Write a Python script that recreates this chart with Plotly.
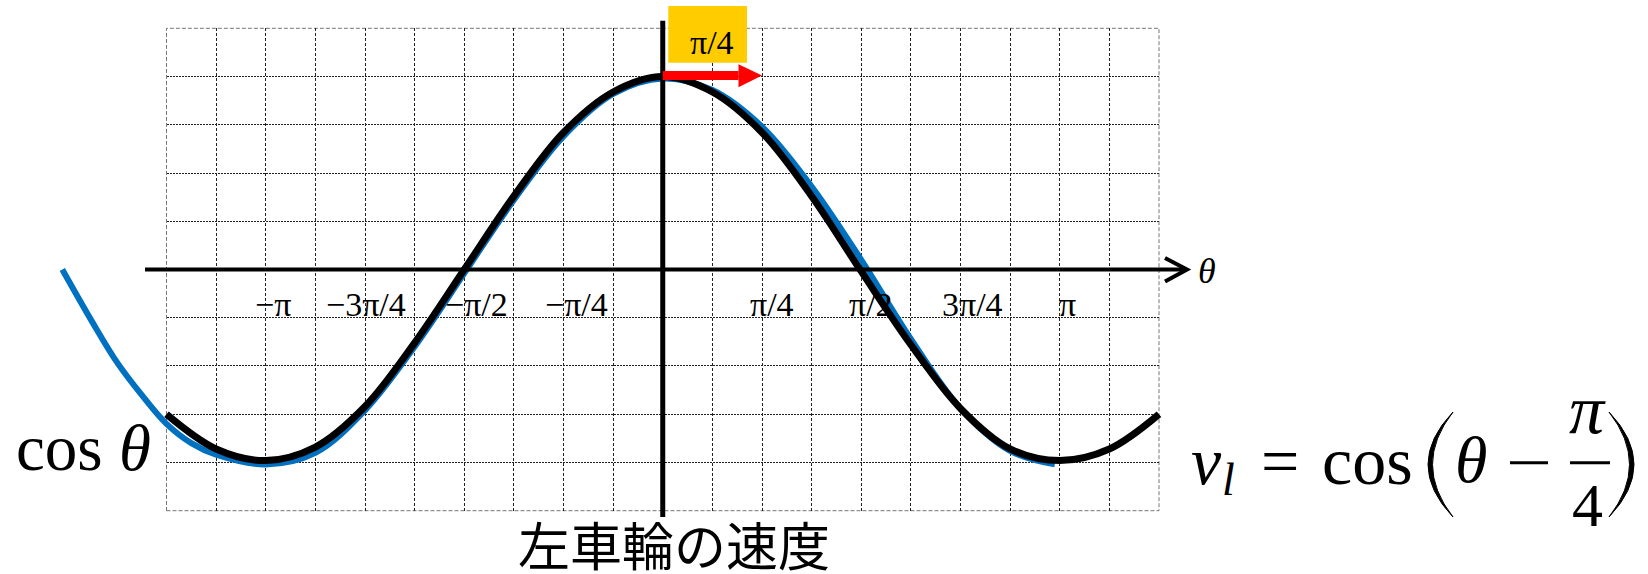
import math
import plotly.graph_objects as go

# curve samples, x in units of pi/8 (one grid column)
black_cols = [-10, -9, -8, -7, -6, -5, -4, -3, -2, -1, 0, 1, 2, 3, 4, 5, 6, 7, 8, 9, 10]
black_vals = [-0.75, -0.93, -0.99, -0.92, -0.71, -0.38, 0.00, 0.38, 0.71, 0.92, 1.00,
              0.92, 0.71, 0.38, -0.01, -0.39, -0.72, -0.93, -0.99, -0.93, -0.75]

blue_cols = [-12.1, -11.5, -11, -10.5, -10, -9.5, -9, -8, -7, -6, -5, -4, -3, -2, -1,
             0, 1, 2, 3, 4, 5, 6, 7, 7.9]
blue_vals = [0.00, -0.27, -0.48, -0.65, -0.80, -0.90, -0.96, -1.01, -0.95, -0.73, -0.40,
             -0.02, 0.36, 0.69, 0.91, 0.99, 0.93, 0.74, 0.43, 0.05, -0.36, -0.72, -0.94, -1.01]

tick_cols = [-8, -6, -4, -2, 2, 4, 6, 8]
tick_text = ["−π", "−3π/4", "−π/2", "−π/4", "π/4", "π/2", "3π/4", "π"]
tick_shift = [7, 1, 12, 13, 10, 10, 12, 8]

shift_cols = [0, 2]   # the pi/4 arrow, from 0 to pi/4

# page geometry (pixels)
W, H = 1648, 574
GX0, GX1 = 166.5, 1159.0
GY0, GY1 = 28.3, 510.7
XH, YH = 1.25 * math.pi, 1.25
kx = (GX1 - GX0) / (2 * XH)
ky = (GY1 - GY0) / (2 * YH)
cx = (GX0 + GX1) / 2
cy = (GY0 + GY1) / 2
COL = math.pi / 8

SERIF = "Liberation Serif"


def dx(px):
    return (px - cx) / kx


def dy(py):
    return (cy - py) / ky


def px_(px):
    return px / W


def py_(py):
    return 1 - py / H


fig = go.Figure()

# empty trace so the grid axes get drawn
fig.add_trace(go.Scatter(x=[0], y=[0], mode="markers", marker=dict(opacity=0),
                         xaxis="x", yaxis="y", hoverinfo="skip"))

fig.add_trace(go.Scatter(
    x=[c * COL for c in blue_cols], y=blue_vals, mode="lines",
    line=dict(color="#0070C0", width=6, shape="spline", smoothing=1.0),
    xaxis="x2", yaxis="y2"))
fig.add_trace(go.Scatter(
    x=[c * COL for c in black_cols], y=black_vals, mode="lines",
    line=dict(color="black", width=7, shape="spline", smoothing=1.0),
    xaxis="x2", yaxis="y2"))

shapes = []
# dashed outer border of the grid
shapes.append(dict(type="rect", xref="paper", yref="paper",
                   x0=px_(GX0), x1=px_(GX1), y0=py_(GY1), y1=py_(GY0),
                   line=dict(color="#777", width=1, dash="4px,2px"), layer="below"))
# theta axis with open arrow head
shapes.append(dict(type="line", xref="x2", yref="y2", x0=dx(145), x1=dx(1184), y0=0, y1=0,
                   line=dict(color="black", width=4)))
shapes.append(dict(type="path", xref="x2", yref="y2",
                   path=f"M {dx(1165)},{dy(258)} L {dx(1187)},0 L {dx(1165)},{dy(281.5)}",
                   line=dict(color="black", width=4)))
# vertical axis
shapes.append(dict(type="line", xref="x2", yref="y2", x0=0, x1=0, y0=dy(517), y1=dy(20.7),
                   line=dict(color="black", width=5)))
# red shift arrow
x_a, x_b = shift_cols[0] * COL, shift_cols[1] * COL
ya = dy(75.5)
head = 23.5 / kx
shapes.append(dict(type="line", xref="x2", yref="y2", x0=x_a, x1=x_b - head, y0=ya, y1=ya,
                   line=dict(color="#FF0000", width=9)))
shapes.append(dict(type="path", xref="x2", yref="y2",
                   path=f"M {x_b - head},{dy(64.3)} L {x_b},{ya} L {x_b - head},{dy(87.3)} Z",
                   fillcolor="#FF0000", line=dict(width=0)))
# yellow label box
shapes.append(dict(type="rect", xref="paper", yref="paper",
                   x0=px_(668.3), x1=px_(747), y0=py_(62.7), y1=py_(6),
                   fillcolor="#FFCC00", line=dict(width=0)))
# minus sign and fraction bar of the formula
shapes.append(dict(type="line", xref="paper", yref="paper",
                   x0=px_(1510), x1=px_(1548), y0=py_(462.7), y1=py_(462.7),
                   line=dict(color="black", width=3)))
shapes.append(dict(type="line", xref="paper", yref="paper",
                   x0=px_(1570), x1=px_(1610), y0=py_(462.7), y1=py_(462.7),
                   line=dict(color="black", width=3)))


def paren(tip_x, mid_out, mid_in, top=412, bot=517):
    # thin crescent shaped bracket, drawn in paper coordinates
    c_out = 2 * mid_out - tip_x
    c_in = 2 * mid_in - tip_x
    mid = (top + bot) / 2
    return dict(type="path", xref="paper", yref="paper",
                path=(f"M {px_(tip_x)},{py_(top)} Q {px_(c_out)},{py_(mid)} {px_(tip_x)},{py_(bot)} "
                      f"Q {px_(c_in)},{py_(mid)} {px_(tip_x)},{py_(top)} Z"),
                fillcolor="black", line=dict(color="black", width=1))


shapes.append(paren(1453, 1428, 1432.5))
shapes.append(paren(1609, 1634, 1629.5))

ann = []


def text(t, x, y, size, font=SERIF, xanchor="center", xshift=0):
    ann.append(dict(text=t, xref="paper", yref="paper", x=px_(x), y=py_(y),
                    xanchor=xanchor, yanchor="middle", showarrow=False, xshift=xshift,
                    font=dict(family=font, size=size, color="black")))


for c, t, s in zip(tick_cols, tick_text, tick_shift):
    ann.append(dict(text=t, xref="x2", yref="paper", x=c * COL, y=py_(304.5),
                    xanchor="center", yanchor="middle", showarrow=False, xshift=s,
                    font=dict(family=SERIF, size=34, color="black")))

text("π/4", 712.4, 42.5, 34)
text("<i>θ</i>", 1207, 271, 36)
text("cos <i>θ</i>", 14, 448.4, 65, xanchor="left")

# v_l = cos(θ − π/4)
text("<i>v</i>", 1206, 460.7, 68)
text("<i>l</i>", 1228, 479.5, 46)
text("=", 1280, 460.7, 68)
text("cos", 1367, 460.7, 68)
text("<i>θ</i>", 1470.5, 459.4, 66)
text("<i>π</i>", 1587, 409, 70)
text("4", 1587, 505.4, 62)

text("左車輪の速度", 674, 543, 52, font="Noto Sans CJK JP")

fig.update_layout(
    width=W, height=H,
    margin=dict(l=0, r=0, t=0, b=0),
    paper_bgcolor="white", plot_bgcolor="rgba(0,0,0,0)",
    showlegend=False,
    xaxis=dict(domain=[px_(GX0), px_(GX1)], range=[-XH, XH], anchor="y",
               tickmode="linear", tick0=0, dtick=COL, showticklabels=False, ticks="",
               showgrid=True, gridcolor="#222", gridwidth=1, griddash="3px,2px",
               zeroline=False, showline=False, fixedrange=True),
    yaxis=dict(domain=[py_(GY1), py_(GY0)], range=[-YH, YH], anchor="x",
               tickmode="linear", tick0=0, dtick=0.25, showticklabels=False, ticks="",
               showgrid=True, gridcolor="#222", gridwidth=1, griddash="2px,1px",
               zeroline=False, showline=False, fixedrange=True),
    xaxis2=dict(domain=[0, 1], range=[dx(0), dx(W)], anchor="y2", visible=False,
                fixedrange=True),
    yaxis2=dict(domain=[0, 1], range=[dy(H), dy(0)], anchor="x2", visible=False,
                fixedrange=True),
    shapes=shapes,
    annotations=ann,
)

fig.write_html("out.html", config={"displayModeBar": False},
               post_script="document.body.style.margin = '0';")
